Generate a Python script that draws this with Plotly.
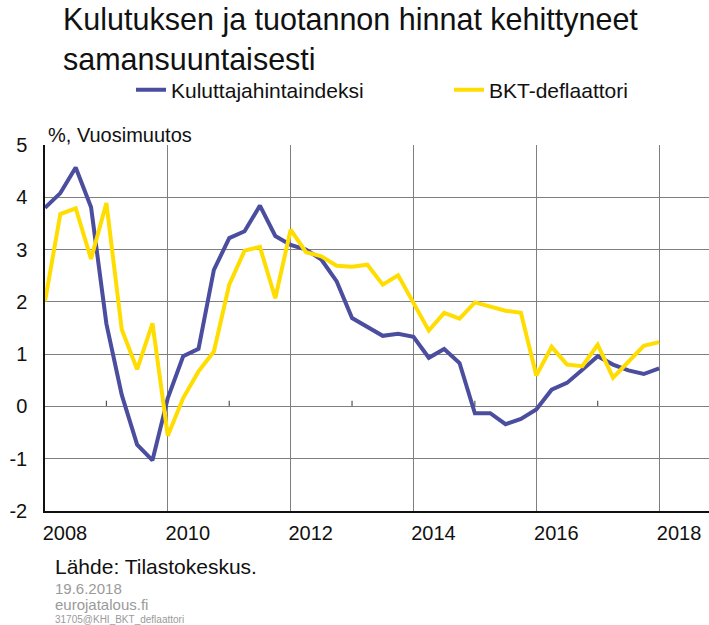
import plotly.graph_objects as go

# ---- data (quarterly, 2008Q1 .. 2018Q1), % year-on-year ----
start_year = 2008
kuluttajahintaindeksi = [3.80, 4.08, 4.57, 3.81, 1.58, 0.22, -0.73, -1.03,
                         0.16, 0.96, 1.10, 2.61, 3.22, 3.35, 3.84, 3.26,
                         3.09, 3.00, 2.81, 2.39, 1.69, 1.52, 1.35, 1.39,
                         1.33, 0.93, 1.10, 0.83, -0.13, -0.13, -0.34, -0.24,
                         -0.06, 0.32, 0.45, 0.70, 0.96, 0.80, 0.69, 0.62, 0.73]
bkt_deflaattori = [2.01, 3.68, 3.79, 2.82, 3.89, 1.47, 0.71, 1.59,
                   -0.56, 0.16, 0.67, 1.05, 2.33, 2.98, 3.05, 2.07,
                   3.38, 2.95, 2.87, 2.69, 2.67, 2.71, 2.33, 2.51,
                   1.98, 1.45, 1.79, 1.68, 1.99, 1.91, 1.83, 1.79,
                   0.59, 1.14, 0.80, 0.77, 1.18, 0.55, 0.86, 1.16, 1.23]
x_years = [start_year + i / 4 for i in range(len(kuluttajahintaindeksi))]

tick_years = [2008, 2010, 2012, 2014, 2016, 2018]
tick_labels = [str(y) for y in tick_years]
minor_tick_years = [2009, 2011, 2013, 2015, 2017]
y_ticks = [-2, -1, 0, 1, 2, 3, 4, 5]

W, H = 709, 625
ML, MR, MT, MB = 45, 0, 145, 114
PW, PH = W - ML - MR, H - MT - MB
px_per_year = 61.41
x_end = 2008 + PW / px_per_year

FONT = "Liberation Sans, Arial, sans-serif"
BLUE = "#4B4D9E"
YELLOW = "#FFDD00"
GRID = "#7f7f7f"


def py(ypx):
    return (H - MB - ypx) / PH


def pxx(xpx):
    return (xpx - ML) / PW


fig = go.Figure()
fig.add_trace(go.Scatter(x=x_years, y=kuluttajahintaindeksi, mode="lines",
                         name="Kuluttajahintaindeksi",
                         line=dict(color=BLUE, width=4)))
fig.add_trace(go.Scatter(x=x_years, y=bkt_deflaattori, mode="lines",
                         name="BKT-deflaattori",
                         line=dict(color=YELLOW, width=4)))

# small tick marks on the zero line
for yr in minor_tick_years:
    fig.add_shape(type="line", xref="x", yref="y", x0=yr, x1=yr, y0=0, y1=0.11,
                  line=dict(color="#555555", width=1.2), layer="below")

annotations = [
    dict(text="%, Vuosimuutos", x=pxx(46), y=py(148), xanchor="left", yanchor="bottom",
         font=dict(size=20, color="#111111")),
    dict(text="Lähde: Tilastokeskus.", x=pxx(53), y=py(566), xanchor="left", yanchor="middle",
         font=dict(size=21, color="#111111")),
    dict(text="19.6.2018", x=pxx(53), y=py(588), xanchor="left", yanchor="middle",
         font=dict(size=15, color="#9a9a9a")),
    dict(text="eurojatalous.fi", x=pxx(53), y=py(604), xanchor="left", yanchor="middle",
         font=dict(size=15, color="#9a9a9a")),
    dict(text="31705@KHI_BKT_deflaattori", x=pxx(53), y=py(619), xanchor="left", yanchor="middle",
         font=dict(size=10, color="#9a9a9a")),
]
for a in annotations:
    a.update(xref="paper", yref="paper", showarrow=False, align="left")

fig.update_layout(
    template="none",
    width=W, height=H,
    margin=dict(l=ML, r=MR, t=MT, b=MB, pad=0, autoexpand=False),
    paper_bgcolor="white", plot_bgcolor="white",
    font=dict(family=FONT, color="#111111"),
    title=dict(text="Kulutuksen ja tuotannon hinnat kehittyneet<br>samansuuntaisesti",
               x=63 / W, xref="container", xanchor="left",
               y=1 - 30 / H, yref="container", yanchor="top",
               font=dict(size=30.5, color="#111111", family=FONT)),
    showlegend=True,
    legend=dict(orientation="h", x=131 / W, xref="container", xanchor="left",
                y=1 - 90 / H, yref="container", yanchor="middle",
                entrywidth=273, entrywidthmode="pixels",
                font=dict(size=21, color="#111111", family=FONT),
                bgcolor="rgba(0,0,0,0)", borderwidth=0, tracegroupgap=0),
    xaxis=dict(range=[2008, x_end], tickvals=tick_years, ticktext=tick_labels,
               showgrid=True, gridcolor=GRID, gridwidth=1.3,
               showline=True, linecolor="#111111", linewidth=2,
               ticks="", ticklabelshift=20, ticklabelstandoff=3,
               tickfont=dict(size=20, color="#111111", family=FONT),
               zeroline=False, fixedrange=True, automargin=False),
    yaxis=dict(range=[-2, 5], tickvals=y_ticks, ticktext=[str(v) for v in y_ticks],
               showgrid=True, gridcolor=GRID, gridwidth=1.3,
               showline=True, linecolor="#111111", linewidth=1.5,
               ticks="", ticklabelstandoff=12,
               tickfont=dict(size=20, color="#111111", family=FONT),
               zeroline=False, fixedrange=True, automargin=False),
    annotations=annotations,
)

fig.write_html("out.html", config={"displayModeBar": False},
               post_script="document.body.style.margin='0';document.body.style.overflow='hidden';")
